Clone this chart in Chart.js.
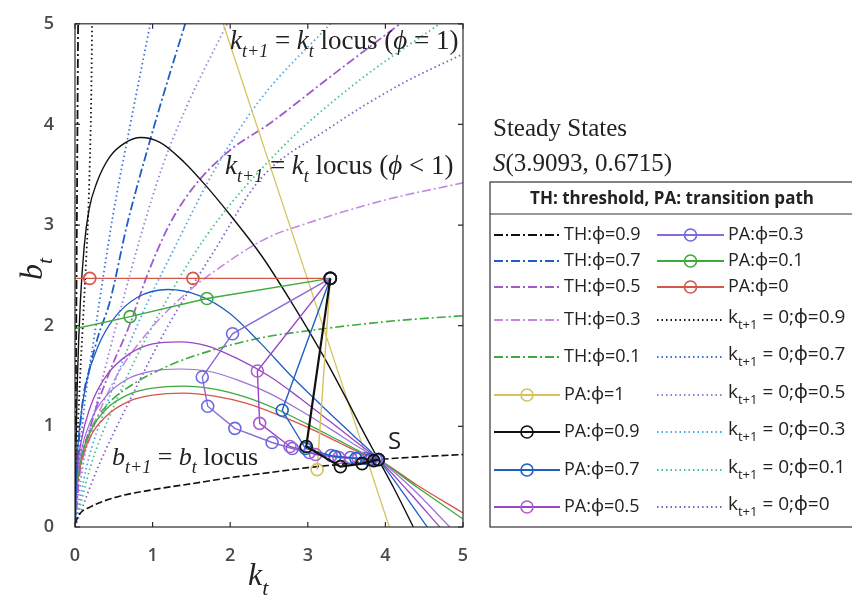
<!DOCTYPE html>
<html>
<head>
<meta charset="utf-8">
<script src="https://cdn.jsdelivr.net/npm/chart.js@4.4.0/dist/chart.umd.min.js"></script>
<style>
  html, body { margin: 0; padding: 0; background: #fff; }
  #wrap { width: 852px; height: 613px; }
</style>
</head>
<body>
<div id="wrap"><canvas id="phaseChart" width="852" height="613"></canvas></div>
<script>
// axis ticks
const xTicks = [0, 1, 2, 3, 4, 5];
const yTicks = [0, 1, 2, 3, 4, 5];

// k_{t+1} = k_t locus (phi < 1), one hump per phi
const humpK09 = [0, 0.01, 0.03, 0.07, 0.12, 0.18, 0.28, 0.45, 0.65, 0.85, 1.1, 1.4, 1.7, 2.0, 2.4, 2.8, 3.2, 3.5, 3.7, 3.91, 4.1, 4.36];
const humpB09 = [0, 0.7, 1.45, 2.25, 2.8, 3.15, 3.42, 3.68, 3.82, 3.87, 3.82, 3.63, 3.38, 3.1, 2.7, 2.22, 1.7, 1.27, 0.97, 0.67, 0.4, 0];
const humpK07 = [0, 0.02, 0.06, 0.15, 0.3, 0.5, 0.8, 1.2, 1.6, 2.0, 2.4, 2.8, 3.2, 3.6, 3.91, 4.2, 4.54];
const humpB07 = [0, 0.55, 1.0, 1.45, 1.8, 2.07, 2.28, 2.36, 2.3, 2.12, 1.82, 1.49, 1.19, 0.9, 0.67, 0.37, 0];
const humpK05 = [0, 0.02, 0.08, 0.2, 0.4, 0.7, 1.0, 1.35, 1.7, 2.1, 2.5, 2.9, 3.3, 3.6, 3.91, 4.3, 4.7];
const humpB05 = [0, 0.45, 0.85, 1.2, 1.5, 1.72, 1.82, 1.84, 1.8, 1.67, 1.5, 1.28, 1.04, 0.86, 0.67, 0.35, 0];
const humpK03 = [0, 0.02, 0.08, 0.2, 0.4, 0.7, 1.0, 1.35, 1.7, 2.1, 2.5, 2.9, 3.3, 3.6, 3.91, 4.35, 4.83];
const humpB03 = [0, 0.4, 0.75, 1.05, 1.3, 1.48, 1.55, 1.57, 1.55, 1.46, 1.33, 1.16, 0.97, 0.82, 0.67, 0.38, 0];
const humpK01 = [0, 0.02, 0.08, 0.2, 0.4, 0.7, 1.0, 1.4, 1.8, 2.2, 2.6, 3.0, 3.4, 3.7, 3.91, 4.4, 5.0];
const humpB01 = [0, 0.35, 0.68, 0.95, 1.17, 1.32, 1.38, 1.4, 1.37, 1.29, 1.17, 1.02, 0.86, 0.74, 0.67, 0.4, 0.08];
const humpK00 = [0, 0.02, 0.08, 0.2, 0.4, 0.7, 1.0, 1.4, 1.8, 2.2, 2.6, 3.0, 3.4, 3.7, 3.91, 4.4, 5.0];
const humpB00 = [0, 0.33, 0.64, 0.9, 1.1, 1.25, 1.31, 1.33, 1.3, 1.23, 1.12, 0.99, 0.84, 0.73, 0.67, 0.42, 0.14];

// k_{t+1} = k_t locus (phi = 1)
const locusK1 = [1.91, 4.05];
const locusB1 = [5, 0];

// b_{t+1} = b_t locus
const bLocusK = [0, 0.05, 0.2, 0.5, 1, 1.5, 2, 2.5, 3, 3.5, 3.91, 4.5, 5];
const bLocusB = [0.03, 0.12, 0.2, 0.29, 0.37, 0.43, 0.49, 0.54, 0.59, 0.63, 0.67, 0.7, 0.72];

// transition paths (PA)
const paK1 = [3.29, 3.12];
const paB1 = [2.47, 0.57];
const paK09 = [3.29, 2.98, 3.42, 3.7, 3.85, 3.91];
const paB09 = [2.47, 0.8, 0.6, 0.63, 0.66, 0.67];
const paK07 = [3.29, 2.67, 2.97, 3.35, 3.62, 3.8, 3.91];
const paB07 = [2.47, 1.16, 0.78, 0.7, 0.68, 0.67, 0.67];
const paK05 = [3.29, 2.35, 2.38, 2.77, 3.1, 3.4, 3.65, 3.82, 3.91];
const paB05 = [2.47, 1.55, 1.03, 0.8, 0.72, 0.69, 0.68, 0.67, 0.67];
const paK03 = [3.29, 2.03, 1.64, 1.71, 2.06, 2.54, 2.8, 3.02, 3.3, 3.55, 3.75, 3.88, 3.91];
const paB03 = [2.47, 1.92, 1.49, 1.2, 0.98, 0.84, 0.78, 0.74, 0.71, 0.69, 0.68, 0.67, 0.67];
const paK01 = [3.29, 1.7, 0.71, 0];
const paB01 = [2.47, 2.27, 2.09, 1.97];
const paK00 = [3.29, 1.52, 0.19, 0];
const paB00 = [2.47, 2.47, 2.47, 2.47];

// thresholds (TH)
const thK09 = [0, 0.01, 0.02, 0.03, 0.04];
const thB09 = [0, 1.2, 2.5, 3.8, 5];
const thK07 = [0, 0.03, 0.1, 0.19, 0.3, 0.45, 0.67, 0.97, 1.2, 1.42];
const thB07 = [0, 0.6, 1.25, 1.58, 1.9, 2.24, 3.0, 3.85, 4.45, 5];
const thK05 = [0, 0.05, 0.2, 0.45, 0.7, 0.93, 1.2, 1.5, 1.96, 2.51, 3.3, 4.19];
const thB05 = [0, 0.5, 1.0, 1.55, 2.0, 2.5, 2.98, 3.35, 3.72, 4.01, 4.48, 5];
const thK03 = [0, 0.05, 0.2, 0.5, 0.9, 1.4, 1.85, 2.47, 3.0, 4.0, 5.0];
const thB03 = [0, 0.45, 0.9, 1.45, 1.9, 2.3, 2.57, 2.87, 3.02, 3.25, 3.42];
const thK01 = [0, 0.05, 0.2, 0.4, 0.67, 1.2, 1.74, 2.4, 3.0, 4.0, 5.0];
const thB01 = [0, 0.5, 0.95, 1.2, 1.38, 1.6, 1.75, 1.88, 1.95, 2.04, 2.1];

// k_{t+1} = 0 curves
const zK09 = [0, 0.02, 0.06, 0.1, 0.14, 0.17, 0.19, 0.21, 0.22];
const zB09 = [0, 0.6, 1.4, 2.0, 2.6, 3.1, 3.6, 4.3, 5];
const zK07 = [0, 0.05, 0.12, 0.25, 0.49, 0.7, 0.97];
const zB07 = [0, 0.6, 1.2, 1.9, 3.1, 3.95, 5];
const zK05 = [0, 0.1, 0.3, 0.6, 0.85, 1.13, 1.44, 1.96];
const zB05 = [0, 0.6, 1.3, 2.2, 2.9, 3.59, 4.18, 5];
const zK03 = [0, 0.15, 0.4, 0.8, 1.3, 1.8, 2.38, 3.29];
const zB03 = [0, 0.6, 1.2, 2.0, 2.8, 3.55, 4.24, 5];
const zK01 = [0, 0.2, 0.5, 1.0, 1.7, 2.64, 3.6, 4.7];
const zB01 = [0, 0.6, 1.2, 2.0, 2.9, 3.75, 4.4, 5];
const zK00 = [0, 0.3, 0.7, 1.2, 1.8, 2.38, 3.25, 4.2, 5];
const zB00 = [0, 0.6, 1.25, 2.0, 2.75, 3.45, 3.95, 4.4, 4.7];

const DASHDOT = [9, 3, 2, 3];
const DOT = [1.5, 3];
const PHI = '\u03D5';

function pts(ks, bs) {
    return ks.map((k, i) => ({ x: k, y: bs[i] }));
}

function curve(ks, bs, color, width, dash) {
    return {
        data: pts(ks, bs), showLine: true, borderColor: color, borderWidth: width,
        borderDash: dash || [], pointRadius: 0, cubicInterpolationMode: 'monotone', fill: false
    };
}

function path(ks, bs, color, markerColor, markers, width) {
    return {
        data: pts(ks, bs), showLine: true, borderColor: color, borderWidth: width || 1.4,
        tension: 0, fill: false, pointStyle: 'circle',
        pointRadius: ks.map((_, i) => i < markers ? 6 : 0),
        pointBackgroundColor: 'rgba(255,255,255,0)',
        pointBorderColor: markerColor, pointBorderWidth: 1.6
    };
}

const datasets = [
    path(paK09, paB09, '#111111', '#111111', 6, 2.2),
    path(paK07, paB07, '#1f5fc4', '#1f5fc4', 7),
    path(paK05, paB05, '#9a45c8', '#b05ccf', 9),
    path(paK03, paB03, '#8a6ad8', '#6a6ae0', 13),
    path(paK01, paB01, '#3daa3d', '#3daa3d', 3),
    path(paK00, paB00, '#d4574a', '#d4574a', 3),
    path(paK1, paB1, '#d6c35e', '#d6c35e', 2),
    curve(bLocusK, bLocusB, '#111111', 1.6, [7, 3]),
    curve(humpK09, humpB09, '#111111', 1.4),
    curve(humpK07, humpB07, '#1f5fc4', 1.3),
    curve(humpK05, humpB05, '#9a45c8', 1.3),
    curve(humpK03, humpB03, '#9a72d8', 1.2),
    curve(humpK01, humpB01, '#3daa3d', 1.3),
    curve(humpK00, humpB00, '#d4574a', 1.3),
    curve(locusK1, locusB1, '#d6c35e', 1.3),
    curve(thK09, thB09, '#111111', 1.8, DASHDOT),
    curve(thK07, thB07, '#1f5fc4', 1.8, DASHDOT),
    curve(thK05, thB05, '#a05ad0', 1.8, DASHDOT),
    curve(thK03, thB03, '#c58ae0', 1.6, DASHDOT),
    curve(thK01, thB01, '#3daa3d', 1.6, DASHDOT),
    curve(zK09, zB09, '#111111', 1.8, DOT),
    curve(zK07, zB07, '#3b6fd8', 1.8, DOT),
    curve(zK05, zB05, '#a07ad8', 1.8, DOT),
    curve(zK03, zB03, '#4aa8e8', 1.8, DOT),
    curve(zK01, zB01, '#46c28e', 1.8, DOT),
    curve(zK00, zB00, '#8060c8', 1.8, DOT)
];

const SERIF = '"Liberation Serif", "DejaVu Serif", serif';
const SANS = '"Open Sans", "Noto Sans", sans-serif';

// draws text made of parts: [text, style], style 'i' italic, 'r' roman, 'si'/'sr' subscripts
function mathText(ctx, parts, x, y, size, family) {
    const fam = family || SERIF;
    const fontFor = st => (st.endsWith('i') ? 'italic ' : '') +
        Math.round(st[0] === 's' ? size * 0.68 : size) + 'px ' + fam;
    let cx = x;
    ctx.textAlign = 'left';
    ctx.textBaseline = 'alphabetic';
    parts.forEach(([t, st]) => {
        ctx.font = fontFor(st);
        ctx.fillText(t, cx, y + (st[0] === 's' ? size * 0.3 : 0));
        cx += ctx.measureText(t).width;
    });
    return cx - x;
}

const framePlugin = {
    id: 'frame',
    afterDatasetsDraw(chart) {
        const { ctx, chartArea: a, scales: { x, y } } = chart;
        ctx.save();
        ctx.strokeStyle = '#2a2a2a';
        ctx.lineWidth = 1.2;
        ctx.strokeRect(a.left, a.top, a.right - a.left, a.bottom - a.top);
        xTicks.forEach(v => {
            const px = x.getPixelForValue(v);
            ctx.beginPath();
            ctx.moveTo(px, a.bottom); ctx.lineTo(px, a.bottom - 5);
            ctx.moveTo(px, a.top); ctx.lineTo(px, a.top + 5);
            ctx.stroke();
        });
        yTicks.forEach(v => {
            const py = y.getPixelForValue(v);
            ctx.beginPath();
            ctx.moveTo(a.left, py); ctx.lineTo(a.left + 5, py);
            ctx.moveTo(a.right, py); ctx.lineTo(a.right - 5, py);
            ctx.stroke();
        });

        // annotations inside the plot
        ctx.fillStyle = '#222';
        mathText(ctx, [['k', 'i'], ['t+1', 'si'], [' = ', 'r'], ['k', 'i'], ['t', 'si'],
            [' locus (', 'r'], [PHI, 'i'], [' = 1)', 'r']], 230, 49, 27);
        mathText(ctx, [['k', 'i'], ['t+1', 'si'], [' = ', 'r'], ['k', 'i'], ['t', 'si'],
            [' locus (', 'r'], [PHI, 'i'], [' < 1)', 'r']], 225, 174, 27);
        mathText(ctx, [['b', 'i'], ['t+1', 'si'], [' = ', 'r'], ['b', 'i'], ['t', 'si'],
            [' locus', 'r']], 112, 465, 26);
        ctx.font = '24px ' + SANS;
        ctx.fillText('S', 388, 449);

        // axis titles
        mathText(ctx, [['k', 'i'], ['t', 'si']], 248, 585, 32);
        ctx.translate(42, 280);
        ctx.rotate(-Math.PI / 2);
        mathText(ctx, [['b', 'i'], ['t', 'si']], 0, 0, 32);
        ctx.restore();
    }
};

const legendRows = [
    { col: 0, y: 235, text: 'TH:' + PHI + '=0.9', color: '#111111', dash: DASHDOT },
    { col: 0, y: 261, text: 'TH:' + PHI + '=0.7', color: '#1f5fc4', dash: DASHDOT },
    { col: 0, y: 287, text: 'TH:' + PHI + '=0.5', color: '#a05ad0', dash: DASHDOT },
    { col: 0, y: 320, text: 'TH:' + PHI + '=0.3', color: '#c58ae0', dash: DASHDOT },
    { col: 0, y: 357, text: 'TH:' + PHI + '=0.1', color: '#3daa3d', dash: DASHDOT },
    { col: 0, y: 395, text: 'PA:' + PHI + '=1', color: '#d6c35e', marker: '#d6c35e' },
    { col: 0, y: 432, text: 'PA:' + PHI + '=0.9', color: '#111111', marker: '#111111', width: 2.2 },
    { col: 0, y: 470, text: 'PA:' + PHI + '=0.7', color: '#1f5fc4', marker: '#1f5fc4' },
    { col: 0, y: 507, text: 'PA:' + PHI + '=0.5', color: '#9a45c8', marker: '#b05ccf' },
    { col: 1, y: 235, text: 'PA:' + PHI + '=0.3', color: '#8a6ad8', marker: '#6a6ae0' },
    { col: 1, y: 261, text: 'PA:' + PHI + '=0.1', color: '#3daa3d', marker: '#3daa3d' },
    { col: 1, y: 287, text: 'PA:' + PHI + '=0', color: '#d4574a', marker: '#d4574a' },
    { col: 1, y: 320, sub: '0.9', color: '#111111', dash: DOT },
    { col: 1, y: 357, sub: '0.7', color: '#3b6fd8', dash: DOT },
    { col: 1, y: 395, sub: '0.5', color: '#a07ad8', dash: DOT },
    { col: 1, y: 432, sub: '0.3', color: '#4aa8e8', dash: DOT },
    { col: 1, y: 470, sub: '0.1', color: '#46c28e', dash: DOT },
    { col: 1, y: 507, sub: '0', color: '#8060c8', dash: DOT }
];

const legendPlugin = {
    id: 'phaseLegend',
    afterDraw(chart) {
        const ctx = chart.ctx;
        ctx.save();
        ctx.fillStyle = '#222';
        mathText(ctx, [['Steady States', 'r']], 493, 136, 25);
        mathText(ctx, [['S', 'i'], ['(3.9093, 0.6715)', 'r']], 493, 171, 25);

        ctx.strokeStyle = '#333';
        ctx.lineWidth = 1.2;
        ctx.strokeRect(490, 182, 380, 345);
        ctx.beginPath();
        ctx.moveTo(490, 214); ctx.lineTo(852, 214);
        ctx.stroke();
        ctx.font = 'bold 17px ' + SANS;
        ctx.textAlign = 'center';
        ctx.textBaseline = 'middle';
        ctx.fillText('TH: threshold, PA: transition path', 672, 199);

        legendRows.forEach(r => {
            const x1 = r.col ? 657 : 494;
            const x2 = r.col ? 724 : 560;
            ctx.save();
            ctx.strokeStyle = r.color;
            ctx.lineWidth = r.width || 1.8;
            ctx.setLineDash(r.dash || []);
            ctx.beginPath();
            ctx.moveTo(x1, r.y); ctx.lineTo(x2, r.y);
            ctx.stroke();
            if (r.marker) {
                ctx.setLineDash([]);
                ctx.strokeStyle = r.marker;
                ctx.lineWidth = 1.6;
                ctx.beginPath();
                ctx.arc((x1 + x2) / 2, r.y, 6, 0, Math.PI * 2);
                ctx.stroke();
            }
            ctx.restore();
            ctx.fillStyle = '#222';
            if (r.text) {
                ctx.font = '18px ' + SANS;
                ctx.textAlign = 'left';
                ctx.textBaseline = 'middle';
                ctx.fillText(r.text, x2 + 4, r.y);
            } else {
                mathText(ctx, [['k', 'r'], ['t+1', 'sr'], [' = 0;' + PHI + '=' + r.sub, 'r']],
                    x2 + 4, r.y + 3, 19, SANS);
            }
        });
        ctx.restore();
    }
};

const ctx = document.getElementById('phaseChart').getContext('2d');
new Chart(ctx, {
    type: 'scatter',
    data: { datasets: datasets },
    options: {
        responsive: false,
        animation: false,
        devicePixelRatio: 1,
        layout: { padding: { left: 35, top: 20, right: 389, bottom: 46 } },
        plugins: { legend: { display: false }, tooltip: { enabled: false } },
        scales: {
            x: {
                type: 'linear', min: 0, max: 5,
                afterBuildTicks: s => { s.ticks = xTicks.map(v => ({ value: v })); },
                afterFit: s => { s.height = 40; },
                grid: { display: false }, border: { display: false },
                ticks: { font: { family: SANS, size: 18, weight: '600' }, color: '#4a4a4a', padding: 10, maxRotation: 0 }
            },
            y: {
                type: 'linear', min: 0, max: 5,
                afterBuildTicks: s => { s.ticks = yTicks.map(v => ({ value: v })); },
                afterFit: s => { s.width = 40; },
                grid: { display: false }, border: { display: false },
                ticks: { font: { family: SANS, size: 18, weight: '600' }, color: '#4a4a4a', padding: 13 }
            }
        }
    },
    plugins: [framePlugin, legendPlugin]
});
</script>
</body>
</html>
